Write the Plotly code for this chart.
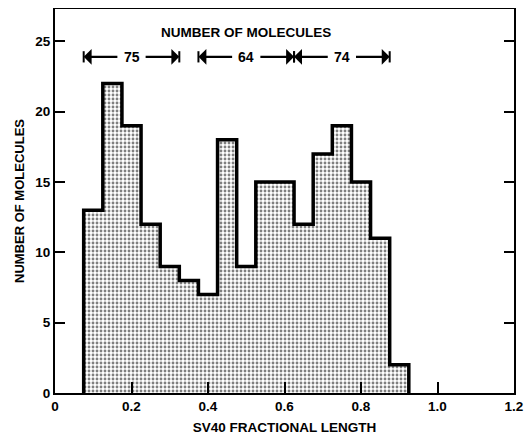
import plotly.graph_objects as go

# ---- data ----
bin_centers = [0.10, 0.15, 0.20, 0.25, 0.30, 0.35, 0.40, 0.45, 0.50,
               0.55, 0.60, 0.65, 0.70, 0.75, 0.80, 0.85, 0.90]
counts = [13, 22, 19, 12, 9, 8, 7, 18, 9, 15, 15, 12, 17, 19, 15, 11, 2]
bin_width = 0.05

group_starts = [0.075, 0.375, 0.625]
group_ends = [0.325, 0.625, 0.875]
group_labels = ["75", "64", "74"]

x_ticks = [0, 0.2, 0.4, 0.6, 0.8, 1.0, 1.2]
x_tick_text = ["0", "0.2", "0.4", "0.6", "0.8", "1.0", "1.2"]
y_ticks = [0, 5, 10, 15, 20, 25]

title_text = "NUMBER OF MOLECULES"
x_title = "SV40 FRACTIONAL LENGTH"
y_title = "NUMBER OF MOLECULES"

FONT = "Liberation Sans"

fig = go.Figure()

# stippled bars
fig.add_trace(go.Bar(
    x=bin_centers, y=counts, width=bin_width,
    marker=dict(color="white", line=dict(width=0),
                pattern=dict(shape=".", fgcolor="black", bgcolor="white",
                             size=4, solidity=0.4)),
    showlegend=False, hoverinfo="skip"))

# step outline
edges = [c - bin_width / 2 for c in bin_centers] + [bin_centers[-1] + bin_width / 2]
ox = [edges[0]] + edges[:-1] + [edges[-1]]
oy = [0] + counts + [0]
fig.add_trace(go.Scatter(x=ox, y=oy, mode="lines", line=dict(color="black", width=3.5, shape="hv"),
                         showlegend=False, hoverinfo="skip"))

arrow_y = 23.9
annotations = []
shapes = []
for s, e, lab in zip(group_starts, group_ends, group_labels):
    mid = (s + e) / 2
    annotations.append(dict(x=mid, y=arrow_y, text="<b>%s</b>" % lab, showarrow=False,
                            font=dict(family=FONT, size=14, color="black"),
                            xref="x", yref="y"))
    for tip, tail in ((s, mid - 0.033), (e, mid + 0.033)):
        annotations.append(dict(x=tip, y=arrow_y, ax=tail, ay=arrow_y, axref="x", ayref="y",
                                xref="x", yref="y", text="", showarrow=True,
                                arrowhead=1, arrowsize=1.2, arrowwidth=2.2, arrowcolor="black",
                                standoff=0, startstandoff=0))
        shapes.append(dict(type="line", xref="x", yref="y", x0=tip, x1=tip,
                           y0=arrow_y - 0.4, y1=arrow_y + 0.4,
                           line=dict(color="black", width=2)))

annotations.append(dict(x=0.5, y=25.6, xref="x", yref="y", text="<b>%s</b>" % title_text,
                        showarrow=False, font=dict(family=FONT, size=13.5, color="black")))

# page body adds an 8px margin, so the figure is shrunk/shifted to compensate
fig.update_layout(
    width=524, height=427,
    margin=dict(l=47, r=18, t=1, b=42),
    paper_bgcolor="white", plot_bgcolor="white",
    bargap=0,
    font=dict(family=FONT, size=13.5, color="black"),
    annotations=annotations, shapes=shapes,
    xaxis=dict(range=[0, 1.2], tickvals=x_ticks, ticktext=["<b>%s</b>" % t for t in x_tick_text],
               ticks="inside", ticklen=11, tickwidth=2, tickcolor="black",
               showline=True, linewidth=2, linecolor="black", mirror=True,
               showgrid=False, zeroline=False, automargin=False,
               tickfont=dict(family=FONT, size=13.5),
               title=dict(text="<b>%s</b>" % x_title, standoff=10,
                          font=dict(family=FONT, size=13.5))),
    yaxis=dict(range=[0, 27.3], tickvals=y_ticks, ticktext=["<b>%d</b>" % t for t in y_ticks],
               ticks="inside", ticklen=10, tickwidth=2, tickcolor="black",
               showline=True, linewidth=2, linecolor="black", mirror="ticks",
               showgrid=False, zeroline=False, automargin=False,
               tickfont=dict(family=FONT, size=13.5),
               title=dict(text="<b>%s</b>" % y_title, standoff=8,
                          font=dict(family=FONT, size=13))),
)

fig.write_html("out.html")
